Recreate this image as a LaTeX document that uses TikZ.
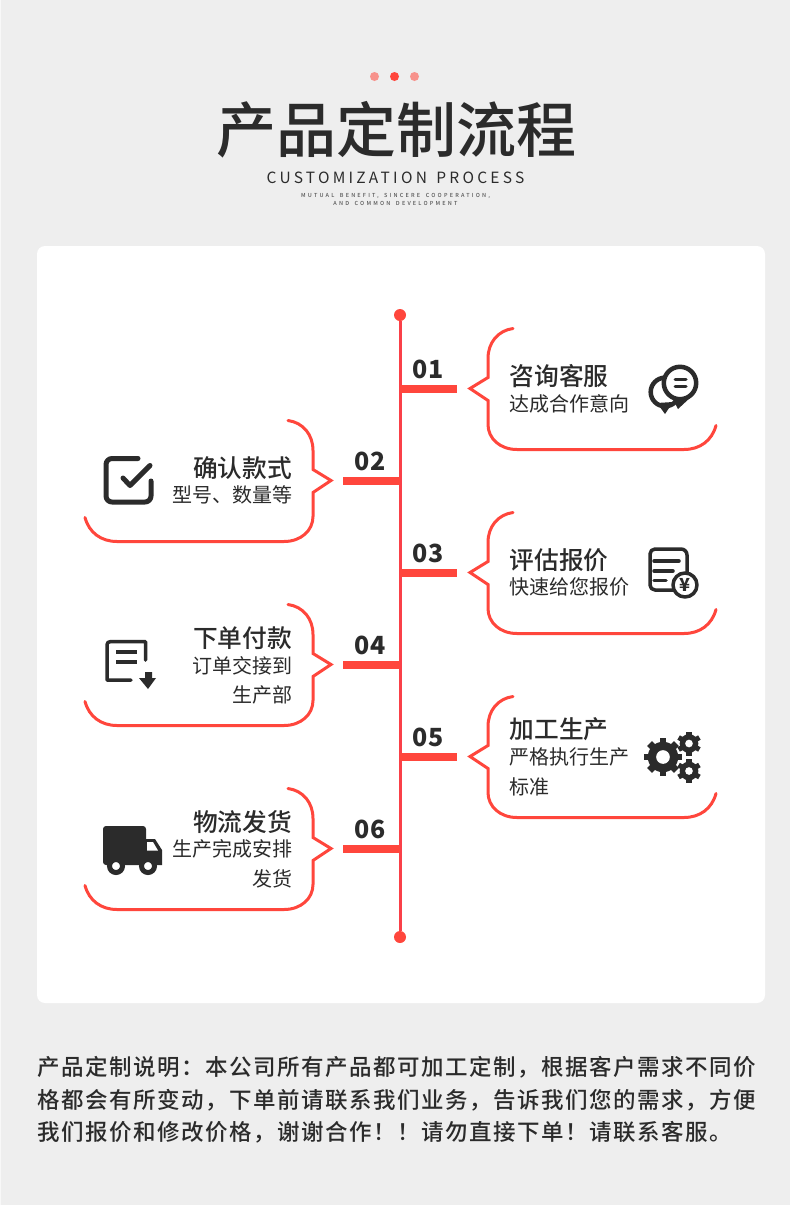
\documentclass[tikz,border=0pt]{standalone}
\usepackage{fontspec}
\usepackage{xcolor}
\setmainfont{Noto Sans CJK SC}
\newfontfamily\titlefont{Noto Sans CJK SC Medium}
\newfontfamily\medfont{Noto Sans CJK SC Medium}
\newfontfamily\subfont{Noto Sans CJK SC}
\newfontfamily\capfont[LetterSpace=21,WordSpace=1.4]{Noto Sans CJK SC}
\newfontfamily\tinyfont[LetterSpace=40,WordSpace=1.6]{Noto Sans CJK SC Medium}
\newfontfamily\notefont[LetterSpace=6.7]{Noto Sans CJK SC Medium}
\usetikzlibrary{arrows.meta,calc,positioning}
\definecolor{pagegray}{HTML}{EEEEEE}
\definecolor{inkdark}{HTML}{2B2B2B}
\definecolor{linered}{HTML}{FF463C}
\definecolor{axisred}{HTML}{FA4048}

\begin{document}
\begin{tikzpicture}[x=1pt,y=-1pt,
  headtext/.style={font=\medfont\fontsize{24.7}{25}\selectfont, text=inkdark, inner sep=0pt},
  subtext/.style={font=\subfont\fontsize{20}{20}\selectfont, text=inkdark, inner sep=0pt},
  numtext/.style={font=\bfseries\fontsize{25}{25}\selectfont, text=inkdark, inner sep=0pt},
  notetext/.style={font=\notefont\fontsize{22.5}{23}\selectfont, text=inkdark, inner sep=0pt, anchor=west},
  enddot/.style={circle, fill=linered, minimum size=12pt, inner sep=0pt},
  tickbar/.style={draw=linered, line width=8pt},
  iconline/.style={draw=inkdark, line width=4pt, line cap=round, line join=round},
  gearbody/.pic={
    \fill[inkdark] (0,0) circle (#1*0.8);
    \foreach \a in {0,45,...,315}
      \draw[inkdark, line width=#1*0.36pt] (\a:#1*0.6) -- (\a:#1);
    \fill[white] (0,0) circle (#1*0.36);
  },
  gearsmall/.pic={
    \fill[inkdark] (0,0) circle (#1*0.78);
    \foreach \a in {30,90,...,330}
      \draw[inkdark, line width=#1*0.42pt] (\a:#1*0.6) -- (\a:#1);
    \fill[white] (0,0) circle (#1*0.32);
  },
  bubbleline/.pic={
    \draw[draw=linered, line width=3pt, line cap=round]
      (25,-60) .. controls (10,-58) and (0,-46) .. (0,-30) -- (0,-11) -- (-18,0) -- (0,12) -- (0,36)
      .. controls (0,50) and (12,61) .. (29,61) -- (196,61)
      .. controls (212,61) and (224,52) .. (228,37);
  }]
\useasboundingbox (0,0) rectangle (790,1205);
\fill[pagegray] (0,0) rectangle (790,1205);
\fill[pagegray!40!white] (0,0) rectangle (1,1205);
\fill[white, rounded corners=8pt] (37,246) rectangle (765,1003);

% Heading block
\node[circle, fill=linered!55!pagegray, minimum size=9pt, inner sep=0pt] (dotA) at (374.5,76.5) {};
\node[circle, fill=linered, minimum size=9pt, inner sep=0pt] (dotB) at (394.5,76.5) {};
\node[circle, fill=linered!55!pagegray, minimum size=9pt, inner sep=0pt] (dotC) at (414.5,76.5) {};
\node[font=\titlefont\fontsize{60}{60}\selectfont, text=inkdark, inner sep=0pt] (title) at (396.5,130) {产品定制流程};
\node[font=\capfont\fontsize{15.5}{16}\selectfont, text=inkdark, inner sep=0pt] (titleEn) at (395.5,177.5) {CUSTOMIZATION PROCESS};
\node[font=\tinyfont\fontsize{5.5}{6}\selectfont, text=inkdark!80, inner sep=0pt] (sloganA) at (395.5,196) {MUTUAL BENEFIT, SINCERE COOPERATION,};
\node[font=\tinyfont\fontsize{5.5}{6}\selectfont, text=inkdark!80, inner sep=0pt] (sloganB) at (395.5,203) {AND COMMON DEVELOPMENT};

% Timeline
\node[enddot] (axisTop) at (400,315) {};
\node[enddot] (axisEnd) at (400,937) {};
\draw[draw=axisred, line width=3pt] (axisTop) -- (axisEnd);

\coordinate (axis1) at (400,389);
\coordinate (axis2) at (400,481);
\coordinate (axis3) at (400,573);
\coordinate (axis4) at (400,665);
\coordinate (axis5) at (400,757);
\coordinate (axis6) at (400,849);
\coordinate (tick1) at (457,389);
\coordinate (tick2) at (343,481);
\coordinate (tick3) at (457,573);
\coordinate (tick4) at (343,665);
\coordinate (tick5) at (457,757);
\coordinate (tick6) at (343,849);
\draw[tickbar] (axis1) -- (tick1);
\draw[tickbar] (axis2) -- (tick2);
\draw[tickbar] (axis3) -- (tick3);
\draw[tickbar] (axis4) -- (tick4);
\draw[tickbar] (axis5) -- (tick5);
\draw[tickbar] (axis6) -- (tick6);

\node[numtext] (num1) at (428,369) {01};
\node[numtext] (num2) at (370,461) {02};
\node[numtext] (num3) at (428,553) {03};
\node[numtext] (num4) at (370,645) {04};
\node[numtext] (num5) at (428,737) {05};
\node[numtext] (num6) at (370,829) {06};

% Callouts
\pic at (488,388.5) {bubbleline};
\pic[xscale=-1] at (313,480.5) {bubbleline};
\pic at (488,572.5) {bubbleline};
\pic[xscale=-1] at (313,664.5) {bubbleline};
\pic at (488,756.5) {bubbleline};
\pic[xscale=-1] at (313,848.5) {bubbleline};

% Callout texts, right side
\node[headtext, anchor=west] (headA) at (509.5,376) {咨询客服};
\node[subtext, anchor=west] (subA) at (509,404) {达成合作意向};
\node[headtext, anchor=west] (headC) at (509.5,560) {评估报价};
\node[subtext, anchor=west] (subC) at (509,587) {快速给您报价};
\node[headtext, anchor=west] (headE) at (509.5,729) {加工生产};
\node[subtext, anchor=west] (subE) at (509,757) {严格执行生产};
\node[subtext, anchor=west] (subEb) at (509,787) {标准};

% Callout texts, left side
\node[headtext, anchor=east] (headB) at (292,468) {确认款式};
\node[subtext, anchor=east] (subB) at (292.5,495) {型号、数量等};
\node[headtext, anchor=east] (headD) at (292,638) {下单付款};
\node[subtext, anchor=east] (subD) at (292.5,666) {订单交接到};
\node[subtext, anchor=east] (subDb) at (292.5,695) {生产部};
\node[headtext, anchor=east] (headF) at (292,822) {物流发货};
\node[subtext, anchor=east] (subF) at (292.5,849) {生产完成安排};
\node[subtext, anchor=east] (subFb) at (292.5,879) {发货};

% Chat icon
\draw[iconline, line width=4.5pt] (665,392) circle (14.3);
\fill[inkdark] (657,403) -- (665,414) -- (673,402) -- cycle;
\fill[inkdark] (671,396) -- (678,409) -- (692,396) -- cycle;
\filldraw[iconline, line width=4.5pt, fill=white] (680,383) circle (16.2);
\draw[iconline, line width=3pt] (675,379) -- (686,379);
\draw[iconline, line width=3pt] (675,386) -- (686,386);

% Check icon
\draw[iconline, line width=5pt] (138,458.5) -- (112,458.5) arc (-90:-180:6) -- (106,496) arc (180:90:6) -- (145,502) arc (90:0:6) -- (151,481);
\draw[iconline, line width=5pt] (123,478) -- (130,485.5) -- (150,465.5);

% Price icon
\draw[iconline, line width=3.5pt] (655,549) -- (681,549) arc (-90:0:6) -- (687,590) -- (655,590) arc (90:180:5) -- (650,554) arc (180:270:5);
\draw[iconline, line width=3.5pt] (654,561) -- (679,561);
\draw[iconline, line width=3.5pt] (654,571) -- (673,571);
\draw[iconline, line width=3.5pt] (654,580.5) -- (666,580.5);
\filldraw[iconline, line width=3.5pt, fill=white] (685,585) circle (12);
\node[font=\bfseries\fontsize{18}{18}\selectfont, text=inkdark, inner sep=0pt] (yen) at (685,585) {¥};

% Order icon
\draw[iconline, line width=3.5pt] (145.5,660) -- (145.5,641.7) -- (110,641.7) arc (-90:-180:3) -- (107,680) -- (131,680);
\draw[iconline, line width=3.5pt, line cap=butt] (116,652) -- (137,652);
\draw[iconline, line width=3.5pt, line cap=butt] (116,662) -- (137,662);
\fill[inkdark] (145,672) -- (152,672) -- (152,678) -- (156,678) -- (148,689) -- (139,678) -- (145,678) -- cycle;

% Gear icon
\pic at (663,757) {gearbody=19};
\pic at (689,743.5) {gearsmall=12};
\pic at (689,771) {gearsmall=12};

% Truck icon
\fill[inkdark, rounded corners=3pt] (103,865) -- (103,826) -- (146,826) -- (146,865) -- cycle;
\fill[inkdark] (146,839) -- (155,839) -- (162,850) -- (162,865) -- (146,865) -- cycle;
\fill[white] (147,842) -- (153,842) -- (158,850.5) -- (147,850.5) -- cycle;
\filldraw[draw=inkdark, line width=5pt, fill=white] (116,866) circle (6.5);
\filldraw[draw=inkdark, line width=5pt, fill=white] (148,866) circle (6.5);

% Note below the card
\node[notetext] (noteA) at (37.5,1067) {产品定制说明：本公司所有产品都可加工定制，根据客户需求不同价};
\node[notetext] (noteB) at (37.5,1100) {格都会有所变动，下单前请联系我们业务，告诉我们您的需求，方便};
\node[notetext] (noteC) at (37.5,1132) {我们报价和修改价格，谢谢合作！！请勿直接下单！请联系客服。};
\end{tikzpicture}
\end{document}
